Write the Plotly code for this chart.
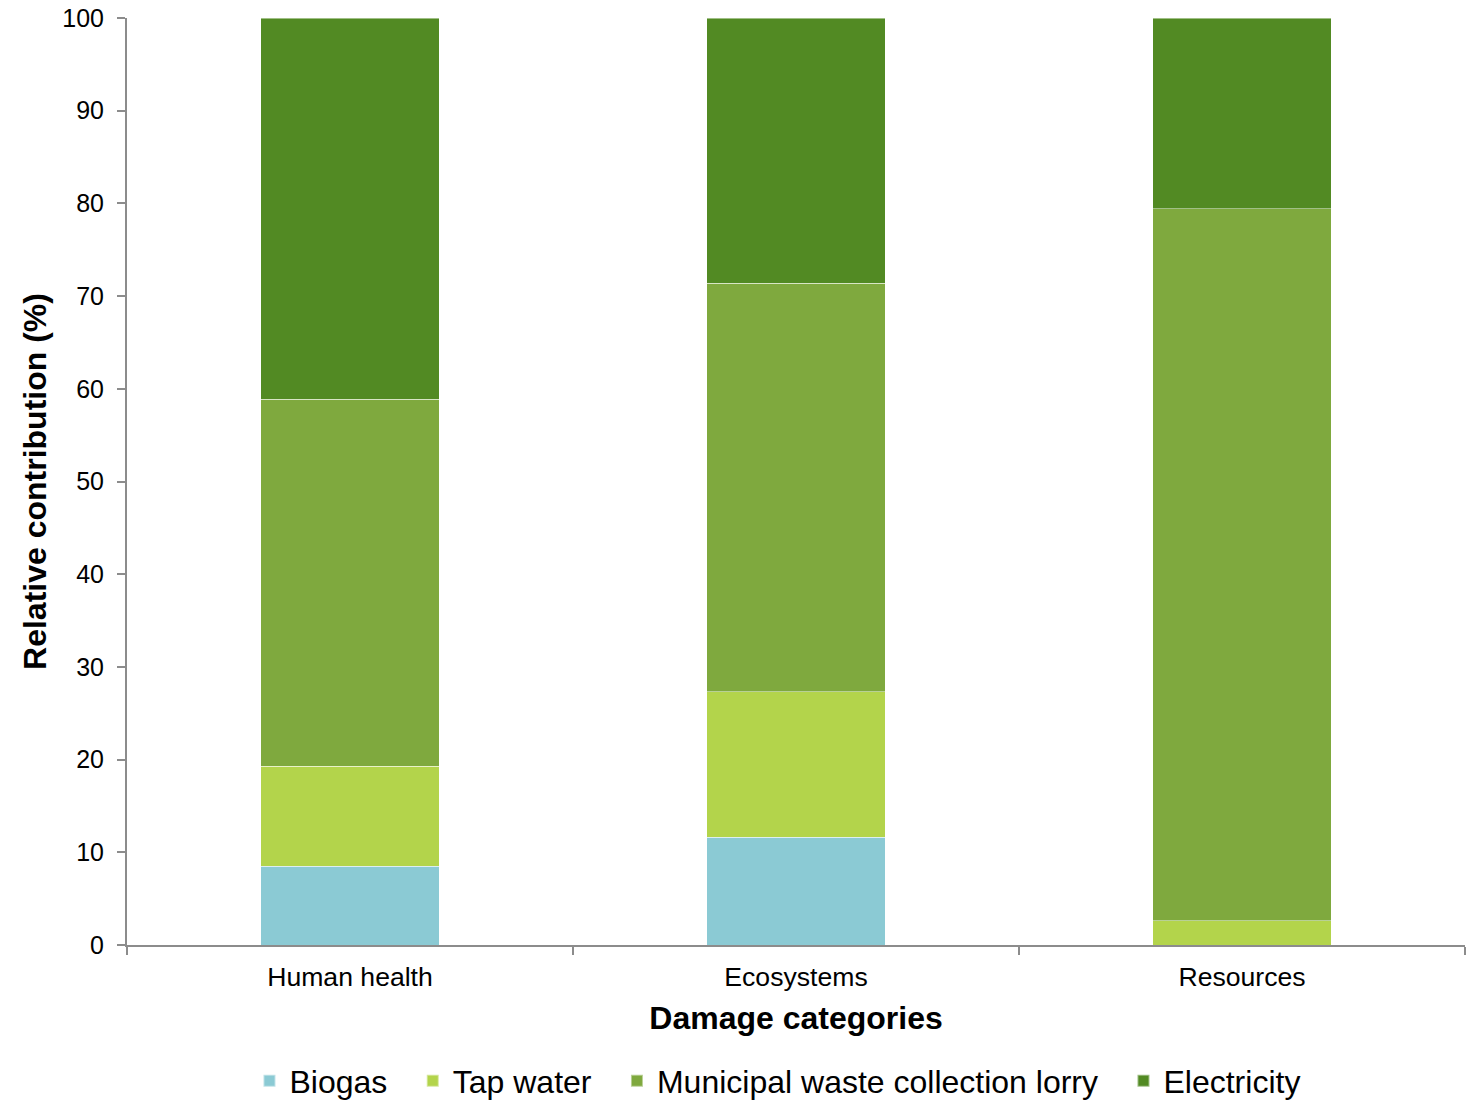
import plotly.graph_objects as go

# Relative contribution (%) of each input to the three damage categories
categories = ["Human health", "Ecosystems", "Resources"]
biogas = [8.5, 11.6, 0.0]
tap_water = [10.8, 15.7, 2.6]
lorry = [39.6, 44.1, 76.8]
electricity = [41.1, 28.6, 20.6]

series_names = ["Biogas", "Tap water", "Municipal waste collection lorry", "Electricity"]
series_values = [biogas, tap_water, lorry, electricity]
series_colors = ["#8BCAD4", "#B3D44B", "#7FA93E", "#528A23"]

y_ticks = list(range(0, 101, 10))

FONT = "Liberation Sans, Arial, sans-serif"
AXIS_GREY = "#8C8C8C"
# extra room after each legend entry
ENTRY_PAD = "\u00a0\u00a0\u200a"

fig = go.Figure()
for name, vals, col in zip(series_names, series_values, series_colors):
    fig.add_trace(go.Bar(
        x=categories,
        y=vals,
        name=name + ENTRY_PAD,
        marker=dict(color=col, line=dict(color="rgba(255,255,255,0.45)", width=1)),
    ))

fig.update_layout(
    barmode="stack",
    bargap=0.6,
    width=1475,
    height=1101,
    margin=dict(l=127, r=10, t=18, b=156, autoexpand=False),
    paper_bgcolor="white",
    plot_bgcolor="white",
    font=dict(family=FONT, color="black"),
    legend=dict(
        orientation="h",
        traceorder="normal",
        x=0.494,
        xanchor="center",
        y=-0.117,
        yanchor="top",
        font=dict(size=32, family=FONT, color="black"),
        itemsizing="constant",
        tracegroupgap=0,
    ),
    xaxis=dict(
        title=dict(text="<b>Damage categories</b>", font=dict(size=32, family=FONT), standoff=16),
        tickfont=dict(size=26.6, family=FONT),
        ticklabelstandoff=7,
        showline=True,
        linecolor=AXIS_GREY,
        linewidth=2,
        ticks="outside",
        tickson="boundaries",
        ticklen=8,
        tickwidth=2,
        tickcolor=AXIS_GREY,
        showgrid=False,
        automargin=False,
    ),
    yaxis=dict(
        title=dict(text="<b>Relative contribution (%)</b>", font=dict(size=32, family=FONT), standoff=6),
        range=[0, 100],
        tickvals=y_ticks,
        tickfont=dict(size=25, family=FONT),
        ticklabelstandoff=8,
        showline=True,
        linecolor=AXIS_GREY,
        linewidth=2,
        ticks="outside",
        ticklen=8,
        tickwidth=2,
        tickcolor=AXIS_GREY,
        showgrid=False,
        zeroline=False,
        automargin=False,
    ),
)

fig.write_html("out.html")
